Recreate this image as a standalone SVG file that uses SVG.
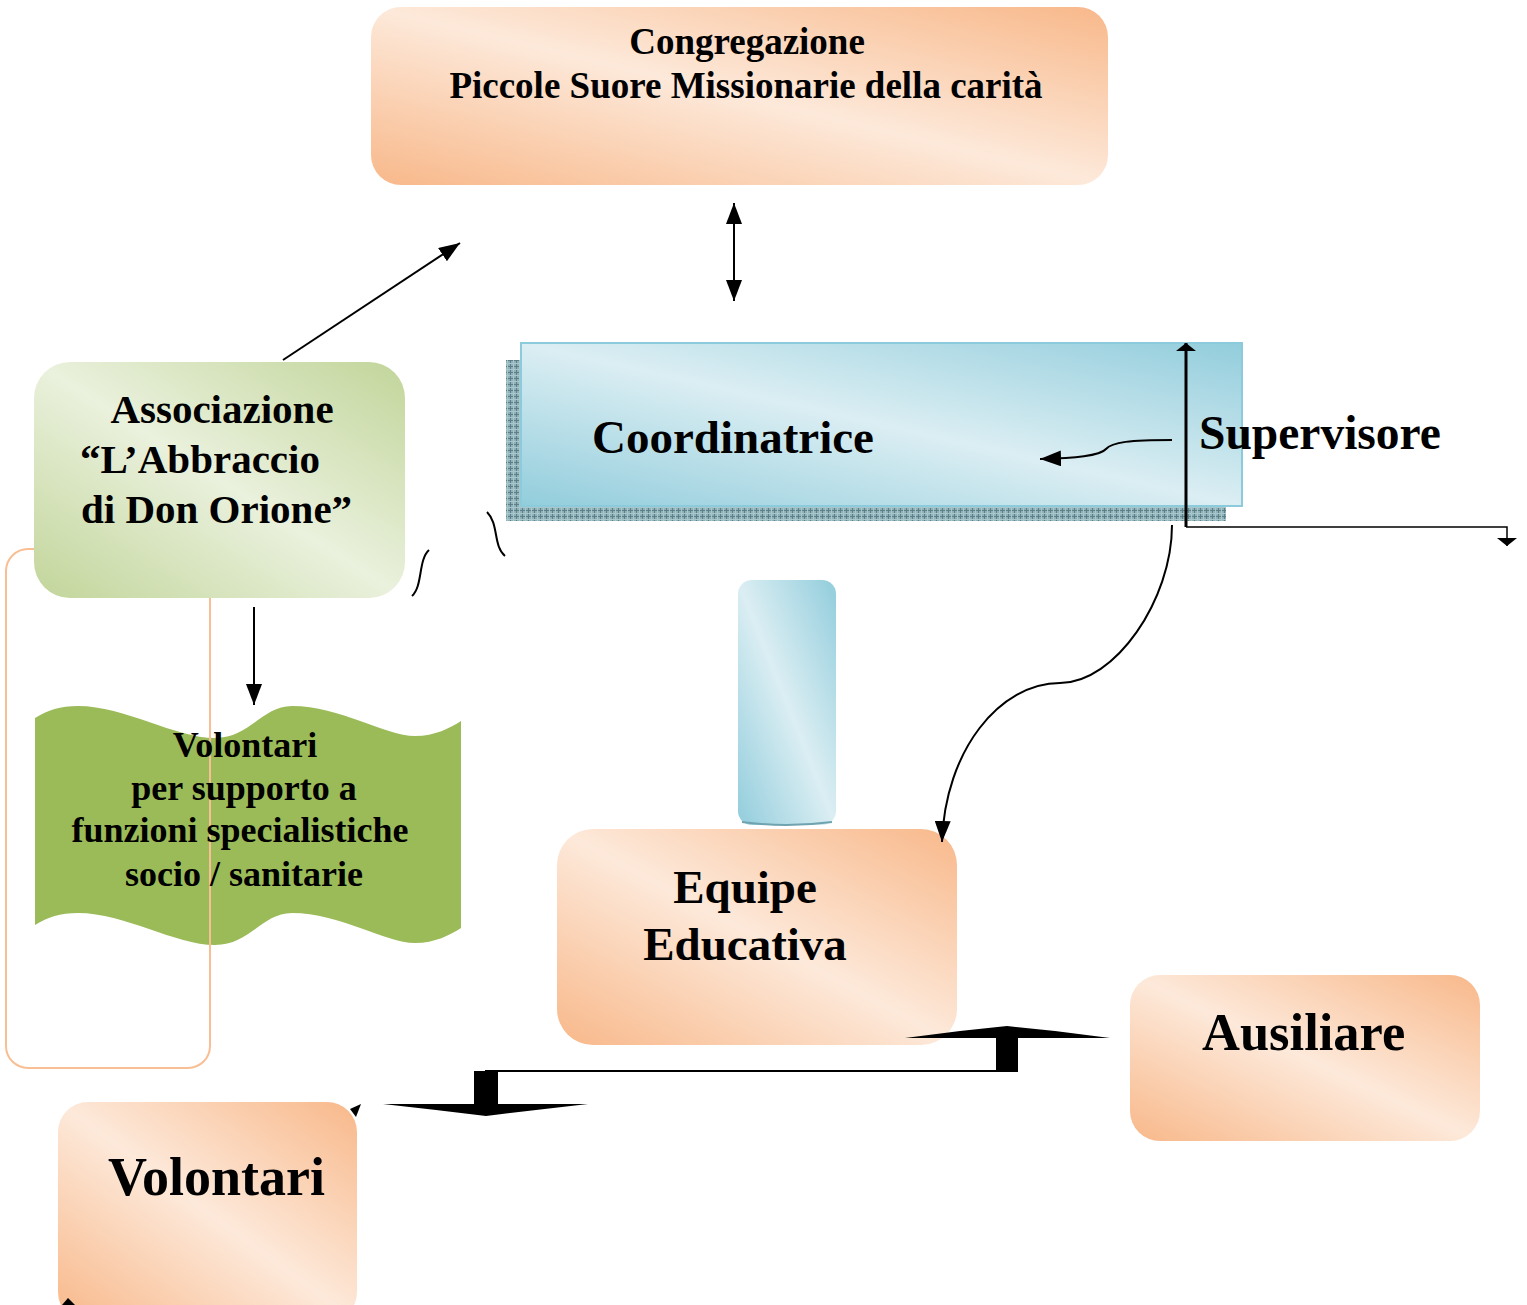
<svg xmlns="http://www.w3.org/2000/svg" width="1527" height="1305" viewBox="0 0 1527 1305">
<style>
.t{font-family:"Liberation Serif","Times New Roman",serif;font-weight:bold;fill:#000}
.ln{fill:none;stroke:#000;stroke-width:2}
</style>
<defs>
<linearGradient id="peach" x1="1" y1="0" x2="0" y2="1">
<stop offset="0" stop-color="#f8b88a"/>
<stop offset="0.5" stop-color="#fde9da"/>
<stop offset="1" stop-color="#f8b88a"/>
</linearGradient>
<linearGradient id="green" x1="1" y1="0" x2="0" y2="1">
<stop offset="0" stop-color="#c2d59a"/>
<stop offset="0.5" stop-color="#eaf1dd"/>
<stop offset="1" stop-color="#c2d59a"/>
</linearGradient>
<linearGradient id="blue" x1="1" y1="0" x2="0" y2="1">
<stop offset="0" stop-color="#92cddc"/>
<stop offset="0.5" stop-color="#dbeef3"/>
<stop offset="1" stop-color="#92cddc"/>
</linearGradient>
<pattern id="grid" width="6" height="6" patternUnits="userSpaceOnUse">
<rect width="6" height="6" fill="#8fb1b8"/>
<path d="M0,0.5H6M0.5,0V6" stroke="#5d7f88" stroke-width="1"/>
<path d="M0,3.5H6M3.5,0V6" stroke="#a9c6cc" stroke-width="1"/>
</pattern>
<marker id="ah" viewBox="0 0 10 10" refX="10" refY="5" markerWidth="21" markerHeight="16" preserveAspectRatio="none" markerUnits="userSpaceOnUse" orient="auto-start-reverse">
<path d="M0,0L10,5L0,10z" fill="#000"/>
</marker>
<marker id="ahs" viewBox="0 0 10 10" refX="10" refY="5" markerWidth="8" markerHeight="20" preserveAspectRatio="none" markerUnits="userSpaceOnUse" orient="auto-start-reverse">
<path d="M0,0L10,5L0,10z" fill="#000"/>
</marker>
</defs>

<g id="congregazione">
<rect x="371" y="7" width="737" height="178" rx="30" fill="url(#peach)"/>
<text class="t" x="747" y="54" text-anchor="middle" font-size="37">Congregazione</text>
<text class="t" x="746" y="98" text-anchor="middle" font-size="37">Piccole Suore Missionarie della carità</text>
</g>

<g id="volontari-supporto">
<path d="M35,718 C48,710 60,706 78,706 C125,706 175,738 215,738 C250,738 262,706 292,706 C340,706 385,736 415,736 C435,736 450,728 461,721 L461,928 C450,935 435,943 415,943 C385,943 340,913 292,913 C262,913 250,945 215,945 C175,945 125,913 78,913 C60,913 48,917 35,925 Z" fill="#9bbb59"/>
</g>

<g id="gruppo-volontari">
<rect x="6" y="549" width="204" height="519" rx="22" fill="none" stroke="#f9bf94" stroke-width="2"/>
</g>

<g id="associazione">
<rect x="34" y="362" width="371" height="236" rx="36" fill="url(#green)"/>
<text class="t" x="222" y="423" text-anchor="middle" font-size="41">Associazione</text>
<text class="t" x="80" y="473" font-size="41">“L’Abbraccio</text>
<text class="t" x="81" y="523" font-size="41">di Don Orione”</text>
</g>

<g id="volontari-supporto-text">
<text class="t" x="245" y="757" text-anchor="middle" font-size="36">Volontari</text>
<text class="t" x="244" y="800" text-anchor="middle" font-size="36">per supporto a</text>
<text class="t" x="240" y="842" text-anchor="middle" font-size="36">funzioni specialistiche</text>
<text class="t" x="244" y="886" text-anchor="middle" font-size="36">socio / sanitarie</text>
</g>

<g id="coordinatrice">
<rect x="506" y="360" width="720" height="161" fill="url(#grid)"/>
<rect x="521" y="343" width="721" height="163" fill="url(#blue)" stroke="#8ccbdb" stroke-width="2"/>
<text class="t" x="592" y="453" font-size="47">Coordinatrice</text>
</g>

<g id="supervisore">
<text class="t" x="1199" y="449" font-size="47.5">Supervisore</text>
</g>

<g id="collegamento">
<rect x="738" y="580" width="98" height="245" rx="14" fill="url(#blue)"/>
<path d="M742,822 Q786,828 832,822" fill="none" stroke="#6fa3b0" stroke-width="2"/>
</g>

<g id="equipe">
<rect x="557" y="829" width="400" height="216" rx="36" fill="url(#peach)"/>
<text class="t" x="745" y="903" text-anchor="middle" font-size="47">Equipe</text>
<text class="t" x="745" y="960" text-anchor="middle" font-size="47">Educativa</text>
</g>

<g id="ausiliare">
<rect x="1130" y="975" width="350" height="166" rx="30" fill="url(#peach)"/>
<text class="t" x="1202" y="1050" font-size="52.5">Ausiliare</text>
</g>

<g id="volontari">
<rect x="58" y="1102" width="299" height="220" rx="30" fill="url(#peach)"/>
<text class="t" x="108" y="1195" font-size="54">Volontari</text>
</g>

<g id="connectors">
<line class="ln" x1="734" y1="203" x2="734" y2="301" marker-start="url(#ah)" marker-end="url(#ah)"/>
<line class="ln" x1="283" y1="360" x2="460" y2="243" marker-end="url(#ah)"/>
<line class="ln" x1="254" y1="607" x2="254" y2="705" marker-end="url(#ah)"/>
<path class="ln" d="M1172,440 C1130,440 1112,442 1106,449 C1100,456 1075,458 1040,459" stroke-width="2.5" marker-end="url(#ah)"/>
<line x1="1186" y1="527" x2="1186" y2="343" stroke="#000" stroke-width="3" marker-end="url(#ahs)"/>
<polyline points="1186,527 1507,527 1507,546" fill="none" stroke="#000" stroke-width="1.5" marker-end="url(#ahs)"/>
<path class="ln" d="M1172,525 C1172,600 1115,683 1060,683 C1000,683 945,750 942,842" stroke-width="2.5" marker-end="url(#ah)"/>
<path class="ln" d="M487,512 C499,524 493,546 505,556"/>
<path class="ln" d="M429,550 C418,560 423,586 412,596"/>
<polygon points="905,1038 960,1031 1007,1026 1055,1031 1110,1038 1018,1038 1018,1072 996,1072 996,1038" fill="#000"/>
<line x1="1000" y1="1071" x2="485" y2="1071" stroke="#000" stroke-width="2"/>
<polygon points="474,1071 498,1071 498,1104 588,1104 536,1110 486,1116 436,1110 383,1104 474,1104" fill="#000"/>
<polygon points="350,1109 361,1104 356,1117" fill="#000"/>
<polygon points="62,1305 68,1298 75,1305" fill="#000"/>
</g>
</svg>
